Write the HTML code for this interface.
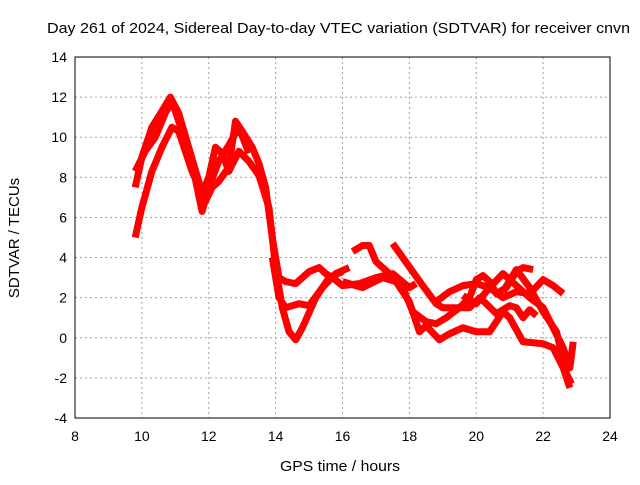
<!DOCTYPE html>
<html><head><meta charset="utf-8"><style>
body{margin:0;background:#fff}
text{font-family:"Liberation Sans",sans-serif;fill:#000}
</style></head><body>
<svg id="chart" width="640" height="480" xmlns="http://www.w3.org/2000/svg">
<rect width="640" height="480" fill="#fff"/>
<text x="47" y="33" font-size="15" textLength="583" lengthAdjust="spacingAndGlyphs">Day 261 of 2024, Sidereal Day-to-day VTEC variation (SDTVAR) for receiver cnvn</text>
<text x="280" y="471" font-size="15" textLength="120" lengthAdjust="spacingAndGlyphs">GPS time / hours</text>
<text x="19" y="238" font-size="15" text-anchor="middle" transform="rotate(-90 19 238)">SDTVAR / TECUs</text>
<g id="grid"></g><g id="series"></g>
<rect x="75" y="57" width="535" height="361" fill="none" stroke="#000" stroke-width="1"/>
</svg>
<script>
const xTicks=[8,10,12,14,16,18,20,22,24];
const yTicks=[-4,-2,0,2,4,6,8,10,12,14];
const trackA_t=[9.8,10.0,10.3,10.6,10.85,11.1,11.4,11.7,11.9,12.1,12.3,12.6,12.8,13.0,13.3,13.5,13.7,13.9,14.1,14.3,14.6,15.0,15.3,15.5,15.7,16.0,16.5,17.0,17.5,18.0,18.2];
const trackA_v=[7.5,9,10.5,11.3,12,11.2,9.5,7.8,6.8,7.5,7.8,8.5,10.8,10.3,9.5,8.7,7.5,5,3,2.8,2.7,3.3,3.5,3.2,3,2.6,2.7,3,3.2,2.5,2.7];
const trackB_t=[9.8,10.0,10.3,10.6,10.9,11.1,11.5,11.8,12.0,12.2,12.4,12.6,12.9,13.2,13.5,13.8,14.0,14.2,14.4,14.6,14.8,15.2,15.6,16.0];
const trackB_v=[5,6.5,8.3,9.5,10.5,10.3,8.3,7.2,8,9.5,9.2,8.3,9.3,8.8,8.1,6.5,3.5,1.5,0.3,-0.1,0.5,2,3,3.3];
const trackC_t=[9.8,10.1,10.4,10.7,10.9,11.2,11.5,11.8,12.0,12.3,12.6,12.9,13.2];
const trackC_v=[8.3,9.3,10,11.2,11.8,10.3,8.7,6.3,7.5,8.8,9.6,10.5,9.2];
const trackD_t=[13.9,14.1,14.3,14.7,15.0,15.4,15.8,16.2];
const trackD_v=[4,2,1.5,1.7,1.6,2.5,3.2,3.5];
const trackE_t=[16.3,16.6,16.8,17.0,17.4,17.8,18.1,18.5,18.8,19.1,19.5,19.8,20.0,20.2,20.4,20.6,20.9,21.2,21.4,21.7];
const trackE_v=[4.3,4.6,4.6,3.8,3.2,2.5,1.3,0.8,0.7,1,1.5,2,2.9,3.1,2.8,2.2,2.5,3.3,3.5,3.4];
const trackF_t=[17.5,17.8,18.1,18.4,18.8,19.0,19.4,19.8,20.1,20.3,20.6,21.0,21.2,21.4,21.6,21.8];
const trackF_v=[4.7,4,3.3,2.6,1.7,1.5,1.5,1.5,2,1.7,1.2,1.6,1.5,1.0,1.4,1.1];
const trackG_t=[16.0,16.6,17.2,17.6,18.0,18.3,18.5,18.9,19.2,19.6,20.0,20.4,20.8,21.0,21.4,22.0,22.3,22.6,22.8];
const trackG_v=[2.8,2.5,3,2.8,1.8,0.3,0.6,-0.1,0.2,0.5,0.3,0.3,1.3,1.0,-0.2,-0.3,-0.5,-1.5,-2.5];
const trackH_t=[18.8,19.2,19.6,20.0,20.4,20.8,21.2,21.6,22.0,22.3,22.6];
const trackH_v=[1.8,2.3,2.6,2.7,2.5,2.0,2.3,2.2,2.9,2.6,2.2];
const trackI_t=[19.6,20.0,20.4,20.8,21.2,21.6,22.0,22.3,22.6,22.8,22.9];
const trackI_v=[2.1,1.7,2.5,3.2,2.6,2.0,1.5,0.5,-0.5,-1.5,-0.2];
const trackJ_t=[20.8,21.2,21.6,22.0,22.4,22.7,22.85];
const trackJ_v=[2.3,3.4,2.5,1.3,0.3,-1.8,-2.3];
const tracks=[[trackA_t,trackA_v],[trackB_t,trackB_v],[trackC_t,trackC_v],[trackD_t,trackD_v],[trackE_t,trackE_v],[trackF_t,trackF_v],[trackG_t,trackG_v],[trackH_t,trackH_v],[trackI_t,trackI_v],[trackJ_t,trackJ_v]];
const X0=75,X1=610,Y0=418,Y1=57;
function xs(t){return X0+(t-8)/16*(X1-X0);}
function ys(v){return Y0-(v+4)/18*(Y0-Y1);}
const NS="http://www.w3.org/2000/svg";
const grid=document.getElementById('grid'),ser=document.getElementById('series');
xTicks.forEach(t=>{
 const x=xs(t);
 if(t>8&&t<24){const l=document.createElementNS(NS,'line');
 l.setAttribute('x1',x);l.setAttribute('x2',x);l.setAttribute('y1',Y1);l.setAttribute('y2',Y0);
 l.setAttribute('stroke','#a0a0a0');l.setAttribute('stroke-dasharray','2,3');
 
 grid.appendChild(l);}
 const tx=document.createElementNS(NS,'text');tx.setAttribute('x',x);tx.setAttribute('y',Y0+23);
 tx.setAttribute('font-size','14');tx.setAttribute('text-anchor','middle');tx.textContent=t;
 
 grid.appendChild(tx);
});
yTicks.forEach(v=>{
 const y=ys(v);
 if(v>-4&&v<14){const l=document.createElementNS(NS,'line');
 l.setAttribute('x1',X0);l.setAttribute('x2',X1);l.setAttribute('y1',y);l.setAttribute('y2',y);
 l.setAttribute('stroke','#a0a0a0');l.setAttribute('stroke-dasharray','2,3');
 
 grid.appendChild(l);}
 const tx=document.createElementNS(NS,'text');tx.setAttribute('x',X0-8);tx.setAttribute('y',y+5);
 tx.setAttribute('font-size','14');tx.setAttribute('text-anchor','end');tx.textContent=v;
 
 grid.appendChild(tx);
});
tracks.forEach(([ts,vs])=>{
 const p=document.createElementNS(NS,'polyline');
 p.setAttribute('points',ts.map((t,i)=>xs(t)+','+ys(vs[i])).join(' '));
 p.setAttribute('fill','none');p.setAttribute('stroke','#ff0000');p.setAttribute('stroke-width','7');
 p.setAttribute('stroke-linejoin','round');
 
 ser.appendChild(p);
});
</script>
</body></html>
